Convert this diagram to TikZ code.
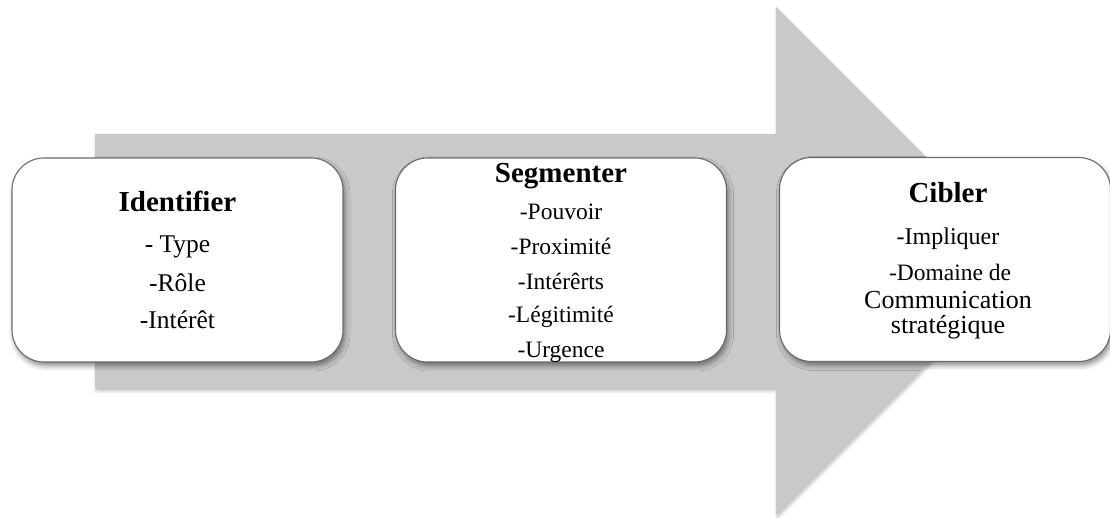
\documentclass[tikz,border=0pt]{standalone}
\usepackage{fontspec}
\setmainfont{Liberation Serif}
\usetikzlibrary{shadows.blur}
\definecolor{arrowgray}{HTML}{C9C9C9}
\definecolor{edgegray}{HTML}{6A6A6A}
\tikzset{
  stage/.style={draw=edgegray, line width=1.1pt, fill=white, rounded corners=32pt,
    minimum width=331pt, minimum height=204pt, inner sep=0pt,
    blur shadow={shadow xshift=2pt, shadow yshift=-4pt, shadow blur radius=5pt, shadow opacity=45}},
  ttl/.style={anchor=base, inner sep=0pt, font=\fontsize{29}{33}\selectfont\bfseries},
  itm/.style={anchor=base, inner sep=0pt, font=\fontsize{#1}{#1}\selectfont},
  itm/.default=25.5
}
\begin{document}
\begin{tikzpicture}[x=1pt,y=1pt]
\useasboundingbox (0,0) rectangle (1110,518);
% large process arrow in the background
\fill[arrowgray, blur shadow={shadow xshift=1pt, shadow yshift=-3pt, shadow blur radius=3pt, shadow opacity=25}]
  (95,384) -- (776,384) -- (776,511) -- (1030,257) -- (776,3) -- (776,130) -- (95,130) -- cycle;

% stage boxes
\node[stage] (id)  at (177.5,258) {};
\node[stage] (seg) at (561,258) {};
\node[stage] (cib) at (945,258.5) {};

% Identifier
\node[ttl] (id-t) at (177.5,306) {Identifier};
\node[itm] (id-1) at (177.5,265) {- Type};
\node[itm] (id-2) at (177.5,226) {-Rôle};
\node[itm] (id-3) at (177.5,189) {-Intérêt};

% Segmenter
\node[ttl] (seg-t) at (561,335) {Segmenter};
\node[itm=23.5] (seg-1) at (561,298) {-Pouvoir};
\node[itm=23.5] (seg-2) at (561,263) {-Proximité};
\node[itm=23.5] (seg-3) at (561,228) {-Intérêrts};
\node[itm=23.5] (seg-4) at (561,195) {-Légitimité};
\node[itm=23.5] (seg-5) at (561,160) {-Urgence};

% Cibler
\node[ttl] (cib-t) at (948,315) {Cibler};
\node[itm=24] (cib-1) at (948,273) {-Impliquer};
\node[itm=23.5] (cib-2) at (950,237) {-Domaine de};
\node[itm=26] (cib-3) at (948,209.5) {Communication};
\node[itm=26] (cib-4) at (948,184) {stratégique};
\end{tikzpicture}
\end{document}
